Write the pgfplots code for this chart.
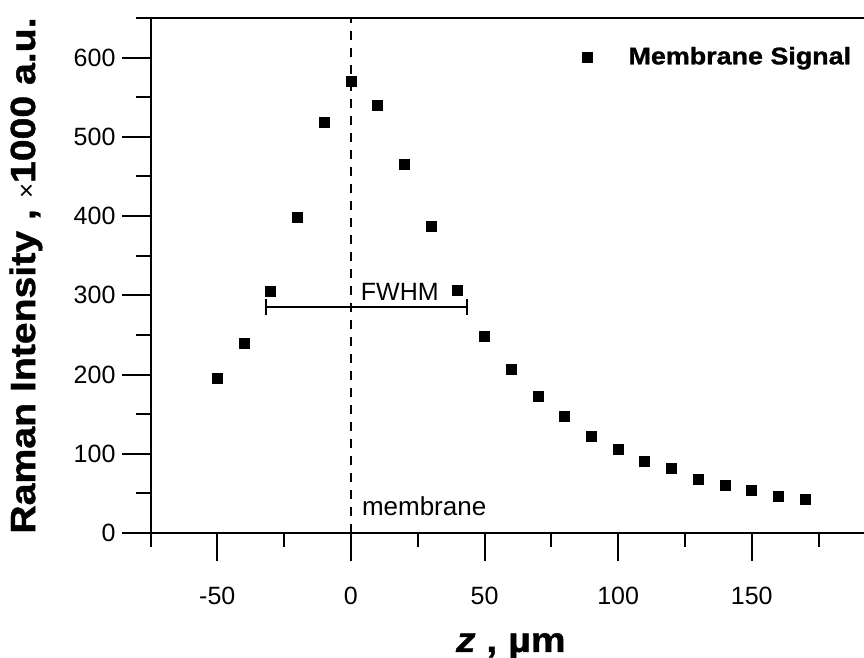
\documentclass[border=0pt]{standalone}
\usepackage{fontspec}
\setmainfont{Liberation Sans}
\newfontfamily\blackfont{Liberation Sans}[UprightFont={* Bold}, ItalicFont={* Bold Italic}, FakeBold=1.2, FakeStretch=1.12]
\usepackage{pgfplots}
\pgfplotsset{compat=1.18}
\pgfplotsset{mylegimg/.style={legend image code/.code={\path (0pt,0pt) (26.5pt,0pt); \draw[mark repeat=2,mark phase=2,##1] plot coordinates {(0pt,0pt)(8pt,0pt)(26.5pt,0pt)};}}}
\pgfplotstableread{
z I
-50 194.5
-40 239.1
-30 305.4
-20 398.7
-10 518.2
0 569.4
10 540.0
20 465.0
30 387.4
40 305.9
50 248.3
60 205.9
70 171.8
80 146.6
90 122.3
100 106.1
110 89.9
120 81.1
130 68.1
140 60.5
150 54.2
160 46.6
170 42.9
}\datatable
\begin{document}
\begin{tikzpicture}
\begin{axis}[
  scale only axis, width=356.75pt, height=257.5pt,
  xmin=-75, xmax=192, ymin=0, ymax=650,
  separate axis lines,
  x axis line style={line width=1pt},
  y axis line style={draw=none},
  xtick={-50,0,...,150}, minor xtick={-75,-25,...,175},
  ytick={0,100,...,600}, minor ytick={50,150,...,650},
  xtick pos=left, ytick pos=left,
  xtick align=outside, ytick align=outside,
  major tick length=14pt, minor tick length=7pt,
  every tick/.style={black, line width=1pt},
  tick label style={font=\fontsize{12.5}{14}\selectfont},
  xticklabel style={yshift=-9.5pt},
  /pgf/number format/assume math mode=true,
  every axis y label/.style={at={(axis description cs:-0.1745,0.5)}, rotate=90, anchor=center},
  every axis x label/.style={at={(axis description cs:0.505,-0.231)}, anchor=base},
  xlabel={\blackfont\fontsize{17.5}{20}\selectfont\itshape z\upshape{} , µm},
  ylabel={\blackfont\fontsize{17.5}{20}\selectfont Raman Intensity , {\normalfont\fontsize{13}{14}\selectfont ×}1000 a.u.},
  clip=false,
  legend style={draw=none, fill=none, at={(axis description cs:0.580,0.924)}, anchor=west,
    font=\blackfont\fontsize{12}{14}\selectfont},
]
\draw[line width=1pt, black] (rel axis cs:0,0) -- (rel axis cs:0,1);
\addplot[black, dashed, dash pattern=on 4.5pt off 4pt, line width=0.8pt, forget plot] coordinates {(0,0) (0,650)};
\addplot[only marks, mark=square*, mark size=2.5pt, black, mylegimg] table[x=z, y=I] {\datatable};
\addlegendentry{Membrane Signal}
\addplot[black, line width=1pt, mark=|, mark size=4pt, mark options={line width=1pt}, forget plot] coordinates {(-31.8,285.3) (43.3,285.3)};
\node[anchor=base, inner sep=0pt, font=\fontsize{12.5}{14}\selectfont] at (axis cs:18.3,293.7) {FWHM};
\node[anchor=base west, inner sep=0pt, font=\fontsize{13}{14}\selectfont] at (axis cs:4.0,22.7) {membrane};
\coordinate (bl) at (rel axis cs:0,0);
\coordinate (tr) at (rel axis cs:1,1);
\end{axis}
\pgfresetboundingbox
\path[use as bounding box] ([xshift=-75.25pt, yshift=-62pt]bl) rectangle ([yshift=9pt]tr);
\end{tikzpicture}
\end{document}
